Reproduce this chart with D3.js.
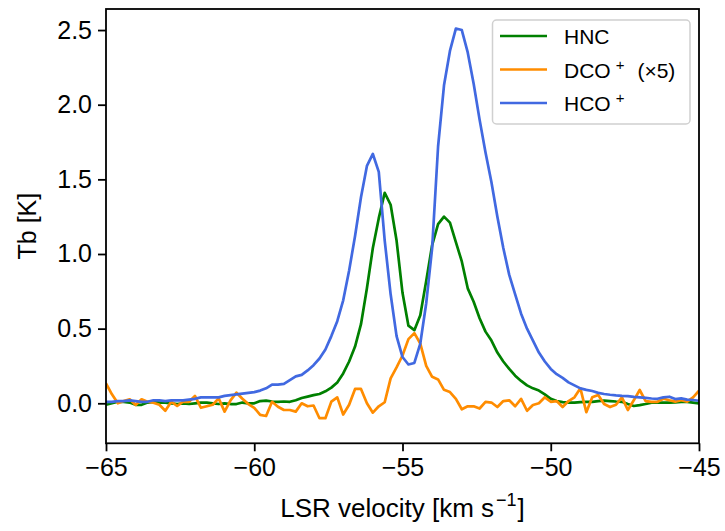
<!DOCTYPE html>
<html lang="en">
<head>
<meta charset="utf-8">
<title>HNC / DCO+ / HCO+ spectra</title>
<script src="https://d3js.org/d3.v7.min.js"></script>
<style>
  body { margin: 0; background: white; }
  svg text { font-family: "Liberation Sans", Arial, sans-serif; fill: black; }
</style>
</head>
<body>
<svg id="chart" width="725" height="531"></svg>
<script>
// channel grid: -65 .. -45 km/s, 0.2 km/s wide
const vStart = -65, vStep = 0.2;

// HNC, Tb [K]
const hnc = [
  -0.01, 0.0, 0.01, 0.01, 0.005, -0.01, -0.01, 0.005, 0.01, 0.005,
  0.005, 0.0, -0.005, 0.0, -0.005, 0.0, 0.005, 0.005, 0.0, -0.005,
  0.0, -0.005, -0.005, 0.005, 0.0, 0.0, 0.015, 0.018, 0.012, 0.01,
  0.012, 0.01, 0.02, 0.035, 0.045, 0.055, 0.062, 0.08, 0.105, 0.14,
  0.2, 0.28, 0.38, 0.53, 0.77, 1.04, 1.24, 1.41, 1.33, 1.09,
  0.74, 0.52, 0.49, 0.59, 0.82, 1.06, 1.2, 1.25, 1.21, 1.08,
  0.95, 0.77, 0.68, 0.57, 0.48, 0.42, 0.34, 0.28, 0.23, 0.185,
  0.15, 0.12, 0.10, 0.085, 0.06, 0.03, 0.015, 0.008, 0.004, 0.005,
  0.008, 0.01, 0.01, 0.015, 0.018, 0.015, 0.012, 0.01, -0.005, -0.018,
  -0.012, -0.005, 0.004, 0.004, 0.005, 0.004, 0.006, 0.01, 0.01, 0.005,
  0.0
];

// DCO+, Tb [K] multiplied by 5
const dco = [
  0.134, 0.06, 0.0, 0.015, 0.027, -0.011, 0.027, 0.011, 0.004, -0.01,
  -0.05, 0.011, -0.018, 0.011, 0.01, 0.049, -0.03, -0.02, -0.01, 0.033,
  -0.056, 0.02, 0.071, 0.03, -0.005, -0.03, -0.078, -0.085, 0.01, -0.023,
  -0.045, -0.045, -0.056, 0.0, -0.02, -0.015, -0.1, -0.1, 0.011, 0.04,
  -0.075, -0.01, 0.096, 0.096, 0.0, -0.063, -0.02, 0.007, 0.167, 0.24,
  0.32, 0.43, 0.47, 0.40, 0.25, 0.177, 0.16, 0.09, 0.075, 0.03,
  -0.04, -0.02, -0.02, -0.035, 0.01, 0.005, -0.025, 0.015, 0.02, -0.02,
  0.03, -0.05, -0.011, 0.0, 0.04, 0.01, 0.015, -0.025, 0.015, 0.04,
  0.1, -0.06, 0.04, 0.056, -0.005, -0.025, -0.01, 0.04, -0.045, 0.02,
  0.089, 0.015, 0.01, 0.01, 0.03, 0.02, 0.011, 0.02, 0.011, 0.04,
  0.084
];

// HCO+, Tb [K]
const hco = [
  0.01, 0.01, 0.015, 0.015, 0.02, 0.015, 0.01, 0.01, 0.02, 0.02,
  0.015, 0.02, 0.02, 0.02, 0.025, 0.03, 0.04, 0.04, 0.04, 0.04,
  0.05, 0.055, 0.06, 0.065, 0.07, 0.075, 0.085, 0.1, 0.125, 0.125,
  0.13, 0.155, 0.18, 0.19, 0.22, 0.255, 0.3, 0.36, 0.45, 0.55,
  0.69, 0.89, 1.12, 1.38, 1.59, 1.67, 1.55, 1.09, 0.73, 0.45,
  0.31, 0.26, 0.27, 0.4, 0.67, 1.04, 1.72, 2.13, 2.36, 2.51,
  2.5, 2.35, 2.14, 1.9, 1.68, 1.48, 1.25, 1.04, 0.86, 0.73,
  0.60, 0.50, 0.42, 0.34, 0.28, 0.23, 0.195, 0.17, 0.14, 0.12,
  0.10, 0.09, 0.082, 0.07, 0.062, 0.057, 0.053, 0.05, 0.048, 0.043,
  0.04, 0.036, 0.032, 0.03, 0.04, 0.044, 0.028, 0.033, 0.025, 0.022,
  0.017
];

const xTicks = [-65, -60, -55, -50, -45];
const yTicks = [0.0, 0.5, 1.0, 1.5, 2.0, 2.5];

const series = [
  { name: "HNC", sup: "", extra: "", color: "green", values: hnc },
  { name: "DCO", sup: "+", extra: "(×5)", color: "darkorange", values: dco },
  { name: "HCO", sup: "+", extra: "", color: "royalblue", values: hco }
];

const svg = d3.select("#chart");

const x = d3.scaleLinear().domain([-65, -45]).range([106, 699]);
const y = d3.scaleLinear().domain([-0.268, 2.641]).range([443.3, 9]);

const line = d3.line()
  .x((d, i) => x(vStart + i * vStep))
  .y(d => y(d));

// clip to the axes box
svg.append("clipPath").attr("id", "clip")
  .append("rect")
  .attr("x", x.range()[0]).attr("y", y.range()[1])
  .attr("width", x.range()[1] - x.range()[0])
  .attr("height", y.range()[0] - y.range()[1]);

svg.append("g").attr("clip-path", "url(#clip)")
  .selectAll("path")
  .data(series)
  .enter().append("path")
  .attr("d", d => line(d.values))
  .attr("fill", "none")
  .attr("stroke", d => d.color)
  .attr("stroke-width", 2.7)
  .attr("stroke-linejoin", "round");

// axes
const xAxis = svg.append("g")
  .attr("transform", "translate(0," + y.range()[0] + ")")
  .call(d3.axisBottom(x).tickValues(xTicks).tickSize(8).tickPadding(7).tickFormat(d3.format("d")));

const yAxis = svg.append("g")
  .attr("transform", "translate(" + x.range()[0] + ",0)")
  .call(d3.axisLeft(y).tickValues(yTicks).tickSize(8).tickPadding(6).tickFormat(d3.format(".1f")));

[xAxis, yAxis].forEach(g => {
  g.selectAll("text").attr("font-size", 25).attr("font-family", null);
  g.selectAll("line").attr("stroke-width", 1.8);
  g.select(".domain").remove();
});

// full frame
svg.append("rect")
  .attr("x", x.range()[0]).attr("y", y.range()[1])
  .attr("width", x.range()[1] - x.range()[0])
  .attr("height", y.range()[0] - y.range()[1])
  .attr("fill", "none")
  .attr("stroke", "black")
  .attr("stroke-width", 1.8);

// axis labels
const xl = svg.append("text")
  .attr("x", (x.range()[0] + x.range()[1]) / 2)
  .attr("y", 517)
  .attr("text-anchor", "middle")
  .attr("font-size", 26);
xl.append("tspan").text("LSR velocity [km s");
xl.append("tspan").attr("dx", 2).attr("font-size", 18).attr("dy", -11).text("−1");
xl.append("tspan").attr("dx", 1).attr("dy", 11).text("]");

svg.append("text")
  .attr("transform", "translate(36," + ((y.range()[0] + y.range()[1]) / 2) + ") rotate(-90)")
  .attr("text-anchor", "middle")
  .attr("font-size", 25)
  .text("Tb [K]");

// legend
const legend = svg.append("g");
legend.append("rect")
  .attr("x", 492.5).attr("y", 20)
  .attr("width", 197.5).attr("height", 104)
  .attr("rx", 4)
  .attr("fill", "white")
  .attr("fill-opacity", 0.8)
  .attr("stroke", "#d0d0d0")
  .attr("stroke-width", 1.5);

const items = legend.selectAll("g.item")
  .data(series)
  .enter().append("g")
  .attr("class", "item")
  .attr("transform", (d, i) => "translate(0," + (36 + i * 33.5) + ")");

items.append("line")
  .attr("x1", 500).attr("x2", 547)
  .attr("stroke", d => d.color)
  .attr("stroke-width", 2.7);

const lt = items.append("text")
  .attr("x", 564)
  .attr("y", 8)
  .attr("font-size", 21);
lt.append("tspan").text(d => d.name);
lt.append("tspan").attr("dx", 5).attr("dy", -8).attr("font-size", 15).text(d => d.sup);
lt.append("tspan").attr("dx", 13).attr("dy", 8).text(d => d.extra);
</script>
</body>
</html>
